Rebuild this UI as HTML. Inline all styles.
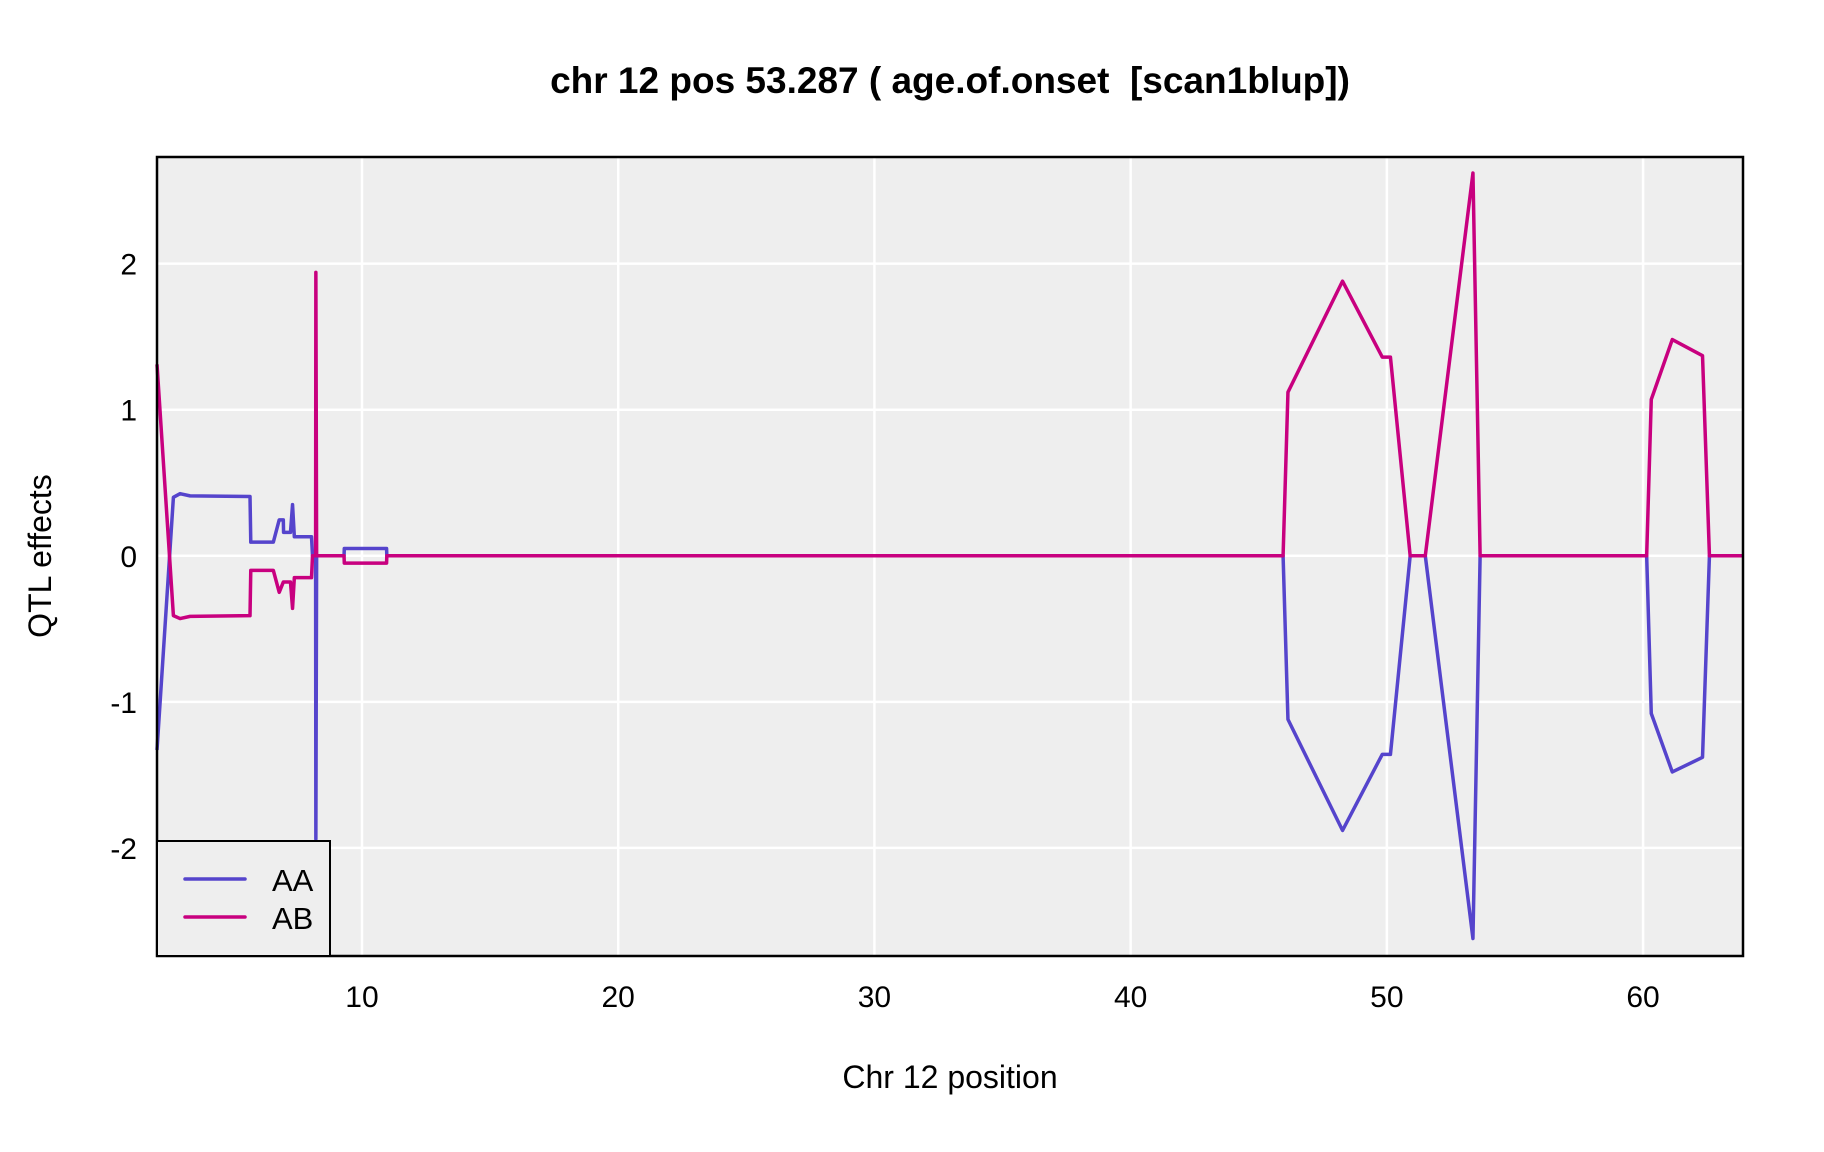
<!DOCTYPE html>
<html><head><meta charset="utf-8"><style>
html,body{margin:0;padding:0;background:#fff;}
svg{display:block;font-family:"Liberation Sans",Arial,sans-serif;}
</style></head><body>
<svg id="chart" width="1824" height="1152" viewBox="0 0 1824 1152">
<text x="950" y="93" text-anchor="middle" font-size="37" font-weight="bold" style="white-space:pre">chr 12 pos 53.287 ( age.of.onset  [scan1blup])</text>
<rect x="157" y="157" width="1586" height="799" fill="#eeeeee"/>
<g id="grid"></g>
<g id="series"></g>
<rect x="157" y="157" width="1586" height="799" fill="none" stroke="#000" stroke-width="2.5"/>
<g id="xticks"></g>
<g id="yticks"></g>
<text x="950" y="1088" text-anchor="middle" font-size="32">Chr 12 position</text>
<text transform="translate(51,556) rotate(-90)" text-anchor="middle" font-size="32">QTL effects</text>
<g>
<rect x="157" y="841" width="173" height="115" fill="#eeeeee" stroke="#000" stroke-width="2"/>
<g>
<line x1="185" y1="879" x2="245" y2="879" stroke="#5544cc" stroke-width="3.5" stroke-linecap="round"/>
<text x="272" y="891" font-size="31">AA</text></g>
<g>
<line x1="185" y1="917" x2="245" y2="917" stroke="#c8007f" stroke-width="3.5" stroke-linecap="round"/>
<text x="272" y="929" font-size="31">AB</text></g>
</g>
</svg>
<script>
const positions = [2.0,2.64,2.9,3.29,5.63,5.66,6.54,6.77,6.93,6.94,7.21,7.29,7.36,8.03,8.07,8.19,8.2,8.23,9.30,9.31,10.96,10.97,45.95,46.14,48.27,49.82,50.14,50.91,51.5,53.36,53.64,60.14,60.32,61.14,62.32,62.59,63.9];
const aaValues = [-1.33,0.40,0.425,0.41,0.406,0.093,0.093,0.246,0.246,0.16,0.16,0.35,0.13,0.13,0,0,-1.94,0,0,0.05,0.05,0,0,-1.12,-1.88,-1.36,-1.36,0,0,-2.62,0,0,-1.08,-1.48,-1.38,0,0];
const abValues = [1.31,-0.41,-0.43,-0.415,-0.41,-0.10,-0.10,-0.25,-0.18,-0.18,-0.18,-0.36,-0.15,-0.15,0,0,1.94,0,0,-0.05,-0.05,0,0,1.12,1.88,1.36,1.36,0,0,2.62,0,0,1.07,1.48,1.37,0,0];
const xTickLabels = [10,20,30,40,50,60];
const yTickLabels = [-2,-1,0,1,2];
const NS='http://www.w3.org/2000/svg';
const X0=157,X1=1743,Y0=157,Y1=956, xmin=2.0,xmax=63.9,ymin=-2.74,ymax=2.73;
function xs(v){return X0+(v-xmin)/(xmax-xmin)*(X1-X0);}
function ys(v){return Y1-(v-ymin)/(ymax-ymin)*(Y1-Y0);}
const grid=document.getElementById('grid'),xt=document.getElementById('xticks'),yt=document.getElementById('yticks'),ser=document.getElementById('series');
xTickLabels.forEach(t=>{
 const l=document.createElementNS(NS,'line');
 l.setAttribute('x1',xs(t));l.setAttribute('x2',xs(t));l.setAttribute('y1',Y0);l.setAttribute('y2',Y1);
 l.setAttribute('stroke','#fff');l.setAttribute('stroke-width','2.5');
 
 
 grid.appendChild(l);
 const tx=document.createElementNS(NS,'text');
 tx.setAttribute('x',xs(t));tx.setAttribute('y',1007);tx.setAttribute('text-anchor','middle');tx.setAttribute('font-size','30');
 tx.textContent=t;
 
 
 xt.appendChild(tx);
});
yTickLabels.forEach(t=>{
 const l=document.createElementNS(NS,'line');
 l.setAttribute('x1',X0);l.setAttribute('x2',X1);l.setAttribute('y1',ys(t));l.setAttribute('y2',ys(t));
 l.setAttribute('stroke','#fff');l.setAttribute('stroke-width','2.5');
 
 
 grid.appendChild(l);
 const tx=document.createElementNS(NS,'text');
 tx.setAttribute('x',137);tx.setAttribute('y',ys(t)+11);tx.setAttribute('text-anchor','end');tx.setAttribute('font-size','30');
 tx.textContent=t;
 
 
 yt.appendChild(tx);
});
function drawLine(vals,color,name){
 const p=document.createElementNS(NS,'polyline');
 p.setAttribute('points',positions.map((x,i)=>xs(x)+','+ys(vals[i])).join(' '));
 p.setAttribute('fill','none');p.setAttribute('stroke',color);p.setAttribute('stroke-width','3.5');p.setAttribute('stroke-linejoin','round');
 
 
 ser.appendChild(p);
}
drawLine(aaValues,'#5544cc','line-aa');
drawLine(abValues,'#c8007f','line-ab');
</script>
</body></html>
